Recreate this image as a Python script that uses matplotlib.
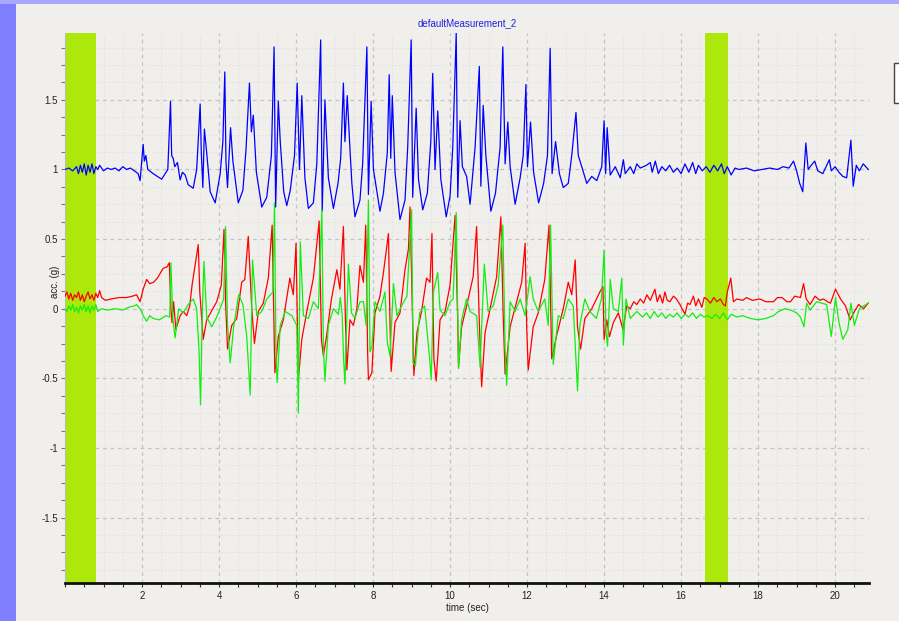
import matplotlib
matplotlib.use("Agg")
import matplotlib.pyplot as plt
import matplotlib.patches as mpatches
from matplotlib.ticker import MultipleLocator, FuncFormatter

# values (time in sec, acceleration in g)
blue_t = [0.0, 0.1, 0.2, 0.3, 0.35, 0.4, 0.45, 0.5, 0.55, 0.6, 0.65, 0.7, 0.75, 0.8, 0.85, 0.9,
          1.0, 1.1, 1.2, 1.3, 1.4, 1.5, 1.6, 1.7, 1.8, 1.9, 1.95, 2.03, 2.06, 2.1, 2.15, 2.29,
          2.4, 2.51, 2.6, 2.67, 2.74, 2.77, 2.81, 2.85, 2.92, 2.99, 3.05, 3.12, 3.2, 3.33, 3.42,
          3.51, 3.54, 3.58, 3.62, 3.67, 3.77, 3.9, 4.03, 4.1, 4.15, 4.18, 4.22, 4.3, 4.36, 4.5,
          4.62, 4.7, 4.79, 4.84, 4.89, 4.97, 5.11, 5.24, 5.36, 5.43, 5.47, 5.54, 5.59, 5.68,
          5.76, 5.85, 5.96, 6.03, 6.09, 6.15, 6.23, 6.32, 6.45, 6.54, 6.64, 6.68, 6.75, 6.84,
          6.97, 7.09, 7.16, 7.23, 7.27, 7.33, 7.4, 7.45, 7.53, 7.66, 7.73, 7.84, 7.88, 7.95,
          8.01, 8.18, 8.27, 8.37, 8.42, 8.46, 8.5, 8.57, 8.7, 8.83, 8.9, 8.99, 9.03, 9.12, 9.18,
          9.29, 9.41, 9.5, 9.55, 9.61, 9.68, 9.76, 9.9, 10.0, 10.07, 10.16, 10.2, 10.26, 10.32,
          10.43, 10.52, 10.65, 10.76, 10.8, 10.86, 10.93, 11.06, 11.18, 11.3, 11.37, 11.43,
          11.5, 11.56, 11.69, 11.82, 11.9, 11.97, 12.01, 12.09, 12.17, 12.3, 12.43, 12.53,
          12.6, 12.65, 12.74, 12.84, 12.94, 13.07, 13.16, 13.27, 13.33, 13.42, 13.55, 13.68,
          13.81, 13.94, 14.0, 14.04, 14.08, 14.16, 14.29, 14.42, 14.5, 14.55, 14.68, 14.77,
          14.85, 14.94, 15.1, 15.2, 15.25, 15.33, 15.41, 15.5, 15.6, 15.7, 15.8, 15.9, 16.0,
          16.1, 16.2, 16.3, 16.38, 16.45, 16.55, 16.65, 16.75, 16.85, 16.95, 17.05, 17.12,
          17.2, 17.3, 17.4, 17.5, 17.7, 17.9, 18.1, 18.3, 18.5, 18.65, 18.8, 18.92, 19.0,
          19.08, 19.16, 19.24, 19.3, 19.38, 19.47, 19.55, 19.68, 19.8, 19.85, 19.9, 20.0,
          20.1, 20.2, 20.3, 20.41, 20.47, 20.55, 20.63, 20.73, 20.86]
blue_v = [1.0, 1.01, 0.99, 1.02, 0.97, 1.03, 0.98, 1.04, 0.96, 1.03, 0.98, 1.04, 0.97, 1.02, 1.0, 1.03,
          0.99, 1.01, 1.0, 1.01, 0.99, 1.02, 1.0, 1.01, 0.99, 0.97, 0.92, 1.18, 1.06, 1.1, 1.0, 0.97,
          0.95, 0.93, 0.97, 1.0, 1.49, 1.1, 1.08, 1.02, 1.05, 0.925, 0.98, 0.96, 0.89, 0.865, 1.0,
          1.47, 1.12, 0.87, 1.29, 1.15, 0.84, 0.76, 0.97, 1.2, 1.7, 1.06, 0.87, 1.3, 1.06, 0.76,
          0.85, 1.14, 1.62, 1.27, 1.39, 0.98, 0.73, 0.8, 1.1, 1.88, 0.73, 1.49, 1.2, 0.84,
          0.74, 0.85, 1.1, 1.62, 1.0, 1.53, 0.94, 0.72, 0.76, 1.04, 1.93, 0.7, 1.5, 0.94,
          0.72, 0.9, 1.08, 1.62, 1.2, 1.53, 1.15, 0.9, 0.66, 0.78, 1.04, 1.88, 0.82, 1.49,
          1.0, 0.7, 0.83, 1.12, 1.68, 1.08, 1.53, 0.98, 0.64, 0.78, 1.16, 1.93, 0.8, 1.44, 0.93,
          0.71, 0.83, 1.2, 1.69, 1.0, 1.42, 0.93, 0.66, 0.81, 1.16, 1.98, 0.8, 1.35, 1.02,
          0.95, 0.75, 1.16, 1.74, 0.88, 1.46, 1.1, 0.7, 0.83, 1.16, 1.88, 1.04,
          1.34, 1.02, 0.75, 0.94, 1.1, 1.61, 1.02, 1.34, 0.98, 0.76, 0.9, 1.1,
          1.87, 0.97, 1.2, 0.97, 0.87, 0.9, 1.1, 1.41, 1.1, 1.02, 0.9, 0.95,
          0.92, 1.02, 1.35, 0.97, 1.3, 0.96, 1.02, 0.94, 1.07, 0.97, 1.02, 0.97,
          1.04, 1.01, 1.03, 1.05, 0.98, 1.06, 0.97, 1.02, 0.99, 1.03, 0.98, 1.01, 0.97,
          1.04, 0.98, 1.05, 0.97, 1.03, 0.99, 1.02, 0.98, 1.03, 0.99, 1.04, 0.97,
          1.02, 0.96, 1.01, 1.0, 1.01, 0.99, 1.0, 1.01, 1.0, 1.02, 1.01, 1.06, 0.99,
          0.9, 0.84, 1.19, 1.0, 1.03, 1.06, 0.99, 0.97, 1.04, 1.07, 0.99, 1.02,
          0.98, 0.95, 0.94, 1.21, 0.88, 1.03, 0.99, 1.04, 1.0]

red_t = [0.0, 0.05, 0.1, 0.15, 0.2, 0.25, 0.3, 0.35, 0.4, 0.45, 0.5, 0.55, 0.6, 0.65, 0.7, 0.75,
         0.8, 0.85, 0.9, 0.95, 1.05, 1.2, 1.4, 1.6, 1.75, 1.86, 1.95, 2.03, 2.12, 2.2, 2.3, 2.4,
         2.55, 2.65, 2.71, 2.75, 2.78, 2.82, 2.88, 2.99, 3.07, 3.16, 3.24, 3.3, 3.46, 3.5, 3.59,
         3.68, 3.8, 3.94, 4.06, 4.13, 4.17, 4.22, 4.33, 4.46, 4.59, 4.67, 4.76, 4.85, 4.92,
         5.02, 5.15, 5.28, 5.38, 5.45, 5.54, 5.67, 5.84, 5.93, 6.0, 6.06, 6.15, 6.28, 6.45,
         6.6, 6.66, 6.71, 6.79, 6.92, 7.06, 7.14, 7.23, 7.28, 7.32, 7.4, 7.49, 7.58, 7.66,
         7.75, 7.81, 7.86, 7.88, 7.97, 8.05, 8.18, 8.27, 8.4, 8.44, 8.47, 8.57, 8.7, 8.83,
         8.92, 8.96, 9.03, 9.06, 9.14, 9.26, 9.39, 9.48, 9.53, 9.58, 9.64, 9.74, 9.87, 10.0,
         10.13, 10.2, 10.22, 10.3, 10.43, 10.6, 10.69, 10.76, 10.82, 10.91, 11.04, 11.21,
         11.32, 11.38, 11.43, 11.56, 11.73, 11.86, 11.95, 11.99, 12.03, 12.16, 12.29, 12.46,
         12.57, 12.64, 12.77, 12.94, 13.07, 13.16, 13.25, 13.31, 13.39, 13.5, 13.68, 13.89,
         13.97, 14.0, 14.07, 14.14, 14.24, 14.37, 14.49, 14.59, 14.68, 14.77, 14.85, 14.94,
         15.03, 15.11, 15.2, 15.32, 15.38, 15.45, 15.52, 15.58, 15.64, 15.71, 15.8, 15.88,
         15.97, 16.1, 16.17, 16.23, 16.32, 16.38, 16.45, 16.54, 16.6, 16.67, 16.76, 16.85,
         16.93, 17.02, 17.1, 17.15, 17.2, 17.29, 17.36, 17.45, 17.6, 17.7, 17.85, 18.05,
         18.2, 18.4, 18.5, 18.62, 18.75, 18.84, 18.95, 19.1, 19.18, 19.25, 19.35, 19.48,
         19.6, 19.7, 19.8, 19.88, 20.01, 20.14, 20.27, 20.39, 20.48, 20.61, 20.74, 20.86]
red_v = [0.09, 0.12, 0.07, 0.11, 0.06, 0.1, 0.08, 0.12, 0.06, 0.1, 0.05, 0.09, 0.12, 0.07, 0.1, 0.06,
         0.11, 0.08, 0.13, 0.08, 0.06, 0.07, 0.08, 0.08, 0.09, 0.1, 0.05, 0.14, 0.21, 0.18, 0.19, 0.22,
         0.29, 0.3, 0.33, 0.0, -0.1, 0.05, -0.15, -0.05, -0.02, -0.05, 0.02, 0.17, 0.46, 0.12, -0.22,
         -0.08, -0.02, 0.05, 0.17, 0.57, 0.05, -0.29, -0.12, -0.07, 0.19, 0.21, 0.52, 0.0, -0.25,
         -0.02, 0.04, 0.22, 0.6, -0.46, -0.2, -0.08, 0.22, 0.1, 0.47, -0.51, -0.22, -0.02, 0.22,
         0.63, -0.22, -0.34, -0.2, 0.07, 0.28, 0.14, 0.59, -0.05, -0.44, -0.08, -0.12, 0.0, 0.31,
         0.19, 0.6, -0.32, -0.51, -0.46, -0.03, 0.09, 0.26, 0.54, -0.1, -0.45, -0.1, -0.03, 0.28,
         0.43, 0.73, -0.1, -0.48, -0.17, -0.02, 0.22, 0.19, 0.54, -0.36, -0.52, -0.08, -0.02, 0.17,
         0.67, -0.1, -0.42, -0.13, 0.02, 0.23, 0.59, -0.1, -0.56, -0.17, 0.0, 0.23,
         0.66, -0.05, -0.47, -0.13, 0.05, 0.19, 0.47, -0.13, -0.44, -0.13, -0.03, 0.21,
         0.6, -0.36, -0.19, 0.0, 0.19, 0.1, 0.35, -0.13, -0.29, -0.07, 0.0, 0.12,
         0.16, -0.22, -0.08, -0.2, -0.1, -0.03, -0.15, 0.02, 0.0, 0.05, 0.03, 0.07,
         0.04, 0.1, 0.06, 0.14, 0.05, 0.1, 0.04, 0.12, 0.06, 0.05, 0.09, 0.07,
         0.03, -0.04, 0.04, 0.03, 0.09, 0.02, 0.07, 0.01, 0.08, 0.07, 0.04, 0.08,
         0.05, 0.07, 0.03, 0.02, 0.12, 0.22, 0.05, 0.07, 0.06, 0.08, 0.06, 0.07,
         0.05, 0.05, 0.08, 0.08, 0.05, 0.05, 0.09, 0.08, 0.18, 0.07, 0.03, 0.09,
         0.06, 0.07, 0.05, 0.04, 0.14, 0.07, 0.02, -0.08, -0.03, 0.03, 0.0, 0.04]

green_t = [0.0, 0.05, 0.1, 0.15, 0.2, 0.25, 0.3, 0.35, 0.4, 0.45, 0.5, 0.55, 0.6, 0.65, 0.7, 0.75,
           0.8, 0.85, 0.95, 1.1, 1.3, 1.5, 1.65, 1.8, 1.86, 1.95, 2.03, 2.12, 2.2, 2.29, 2.45, 2.62,
           2.72, 2.75, 2.8, 2.86, 2.95, 3.07, 3.2, 3.33, 3.42, 3.48, 3.52, 3.57, 3.61, 3.68, 3.81,
           3.94, 4.07, 4.12, 4.17, 4.22, 4.29, 4.38, 4.51, 4.62, 4.72, 4.81, 4.87, 4.98, 5.11,
           5.24, 5.4, 5.44, 5.48, 5.51, 5.59, 5.72, 5.89, 6.02, 6.06, 6.11, 6.19, 6.32, 6.45,
           6.58, 6.67, 6.71, 6.75, 6.84, 6.97, 7.1, 7.15, 7.2, 7.23, 7.27, 7.36, 7.44, 7.53,
           7.66, 7.75, 7.82, 7.88, 7.92, 7.97, 8.05, 8.18, 8.31, 8.37, 8.44, 8.53, 8.62, 8.74,
           8.88, 9.0, 9.04, 9.1, 9.21, 9.34, 9.47, 9.51, 9.57, 9.68, 9.74, 9.87, 10.0, 10.08,
           10.16, 10.22, 10.3, 10.43, 10.52, 10.69, 10.78, 10.82, 10.89, 10.99, 11.12, 11.25,
           11.37, 11.43, 11.47, 11.56, 11.69, 11.82, 11.95, 12.08, 12.16, 12.29, 12.46, 12.55,
           12.61, 12.68, 12.81, 12.94, 13.07, 13.2, 13.31, 13.37, 13.5, 13.63, 13.8, 13.93,
           14.0, 14.05, 14.09, 14.16, 14.24, 14.37, 14.46, 14.5, 14.57, 14.68, 14.85, 15.0,
           15.1, 15.2, 15.3, 15.4, 15.5, 15.6, 15.7, 15.8, 15.9, 16.0, 16.1, 16.2, 16.3,
           16.4, 16.5, 16.6, 16.7, 16.8, 16.9, 17.0, 17.1, 17.2, 17.3, 17.45, 17.6, 17.8,
           18.0, 18.2, 18.4, 18.53, 18.7, 18.85, 19.0, 19.1, 19.19, 19.26, 19.35, 19.52,
           19.78, 19.9, 20.01, 20.1, 20.2, 20.33, 20.41, 20.5, 20.63, 20.86]
green_v = [0.0, -0.02, 0.02, -0.01, 0.03, -0.02, 0.01, -0.03, 0.02, -0.01, 0.03, -0.02, 0.02, -0.03, 0.02, -0.01,
           0.03, -0.02, 0.0, -0.01, 0.0, -0.01, 0.01, 0.02, 0.03, 0.0, -0.05, -0.09, -0.05, -0.07, -0.08, -0.05,
           -0.06, 0.33, -0.07, -0.21, 0.0, -0.03, 0.03, 0.07, 0.0, -0.3, -0.69, 0.02, 0.34, -0.06, -0.13,
           -0.06, 0.03, 0.07, 0.59, -0.11, -0.39, -0.13, 0.1, 0.03, -0.2, -0.62, 0.35, -0.05, -0.02,
           0.07, 0.12, 0.76, -0.36, -0.53, -0.12, -0.02, -0.05, -0.12, -0.75, 0.48, -0.05, -0.07, 0.05,
           0.0, 0.71, -0.27, -0.52, -0.12, 0.0, -0.04, 0.08, -0.05, -0.33, -0.54, 0.32, -0.03, -0.07,
           0.05, 0.05, -0.12, 0.78, -0.31, -0.27, 0.05, -0.02, 0.12, -0.24, -0.34, 0.18, -0.05, 0.02,
           0.09, 0.71, -0.39, -0.41, -0.03, 0.02, -0.36, -0.51, 0.12, 0.26, -0.01, -0.05, 0.05, 0.07,
           0.69, -0.43, -0.08, 0.07, -0.02, -0.05, -0.42, -0.13, 0.32, -0.02, 0.02, 0.17,
           0.6, -0.29, -0.55, 0.05, -0.02, 0.07, -0.05, 0.23, 0.07, -0.02, 0.07, -0.12,
           0.6, -0.4, -0.05, -0.07, 0.07, 0.02, -0.59, -0.12, 0.07, -0.02, -0.07, 0.07,
           0.42, -0.17, -0.27, 0.21, 0.0, -0.02, 0.22, -0.26, 0.07, -0.07, -0.02, -0.06,
           -0.03, -0.07, -0.02, -0.06, -0.03, -0.07, -0.04, -0.06, -0.03, -0.07, -0.04, -0.06, -0.03,
           -0.07, -0.04, -0.06, -0.05, -0.07, -0.04, -0.07, -0.03, -0.08, -0.04, -0.06, -0.05, -0.07,
           -0.08, -0.07, -0.05, -0.02, 0.0, -0.01, -0.03, -0.06, -0.13, 0.04, -0.01, 0.05,
           0.03, -0.2, 0.08, -0.1, -0.22, -0.15, 0.04, -0.12, 0.0, 0.04]

# highlighted time windows
bands = [(0.0, 0.8), (16.62, 17.21)]

title = "defaultMeasurement_2"
xlabel = "time (sec)"
ylabel = "acc. (g)"

BG = "#F1EFEB"
FRAME = "#8080FF"
BAND = "#ADE80C"

fig = plt.figure(figsize=(8.99, 6.21), dpi=100, facecolor=BG)
ax = fig.add_axes([65 / 899, 38 / 621, 804 / 899, 550 / 621])
ax.set_facecolor(BG)

# window frame on the left and top
fig.patches.append(mpatches.Rectangle((0, 0), 16 / 899, 1, transform=fig.transFigure,
                                      facecolor=FRAME, edgecolor="none", zorder=0))
fig.patches.append(mpatches.Rectangle((0, 1 - 4 / 621), 1, 4 / 621, transform=fig.transFigure,
                                      facecolor="#A8A8FF", edgecolor="none", zorder=0))
# legend box, mostly cut off at the right edge
fig.patches.append(mpatches.Rectangle((895 / 899, 1 - 104 / 621), 20 / 899, 40 / 621,
                                      transform=fig.transFigure, facecolor="#888888",
                                      edgecolor="none", zorder=1))
fig.patches.append(mpatches.Rectangle((894 / 899, 1 - 103 / 621), 20 / 899, 40 / 621,
                                      transform=fig.transFigure, facecolor="white",
                                      edgecolor="#444444", lw=1, zorder=2))

for a, b in bands:
    ax.axvspan(a, b, color=BAND, lw=0, zorder=1)

ax.plot(blue_t, blue_v, color="#0000FF", lw=0.9, zorder=3)
ax.plot(red_t, red_v, color="#FF0000", lw=0.9, zorder=4)
ax.plot(green_t, green_v, color="#11EE11", lw=0.9, zorder=5)

ax.set_xlim(0, 20.88)
ax.set_ylim(-1.97, 1.98)

ax.xaxis.set_major_locator(MultipleLocator(2))
ax.xaxis.set_minor_locator(MultipleLocator(0.5))
ax.yaxis.set_major_locator(MultipleLocator(0.5))
ax.yaxis.set_minor_locator(MultipleLocator(0.125))
ax.xaxis.set_major_formatter(FuncFormatter(lambda v, p: "" if v == 0 else f"{v:g}"))
ax.yaxis.set_major_formatter(FuncFormatter(lambda v, p: f"{v:g}"))

ax.grid(which="major", color="#C4C4C4", ls=(0, (3, 3)), lw=0.9, zorder=0)
ax.grid(which="minor", color="#DEDEDE", ls=(0, (1, 2)), lw=0.8, zorder=0)
ax.set_axisbelow(True)

for s in ["top", "right"]:
    ax.spines[s].set_visible(False)
ax.spines["left"].set_color("#BBBBBB")
ax.spines["left"].set_linewidth(0.8)
ax.spines["bottom"].set_color("#111111")
ax.spines["bottom"].set_linewidth(2)

ax.tick_params(axis="both", which="both", length=3, width=0.8, color="#777777",
               labelsize=7, labelcolor="#222222", pad=2)
ax.tick_params(axis="x", which="both", color="#333333", pad=3)

ax.set_title(title, fontsize=7, color="#2020E0", pad=5, family="Liberation Sans")
ax.set_xlabel(xlabel, fontsize=7, color="#222222", labelpad=1, family="Liberation Sans")
ax.set_ylabel(ylabel, fontsize=7, color="#222222", family="Liberation Sans")
ax.yaxis.set_label_coords(-0.006, 0.548)
for lab in ax.get_xticklabels() + ax.get_yticklabels():
    lab.set_family("Liberation Sans")

fig.savefig("out.png", dpi=100, facecolor=BG)
